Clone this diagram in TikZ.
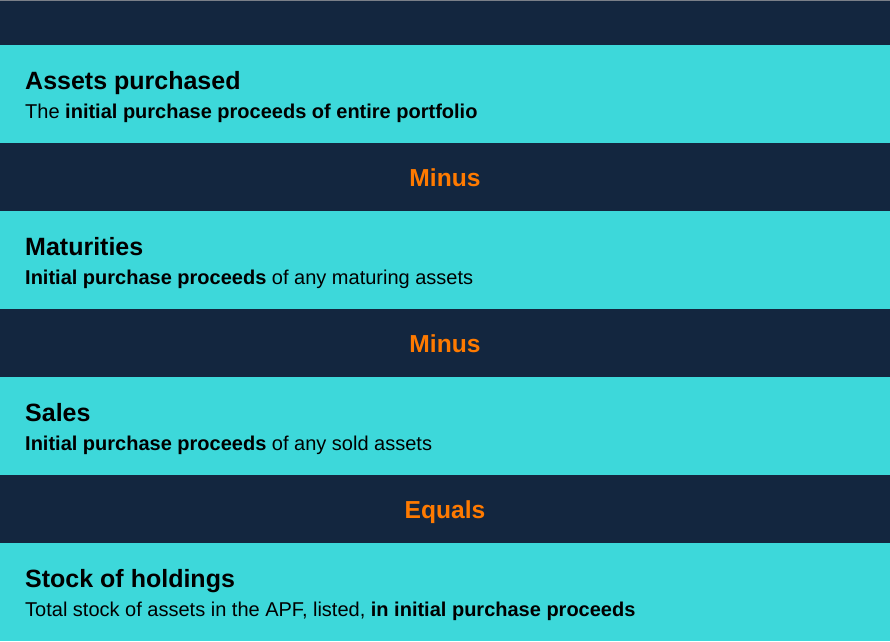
\documentclass[tikz,border=0pt]{standalone}
\usepackage{fontspec}
\setmainfont{Liberation Sans}
\definecolor{navy}{HTML}{13263F}
\definecolor{cyanband}{HTML}{3DD8DA}
\definecolor{orangetxt}{HTML}{FF7A00}
\definecolor{topline}{HTML}{7A7F88}
\begin{document}
\begin{tikzpicture}[x=1pt,y=-1pt,
  navyband/.style={fill=navy},
  cyanbandst/.style={fill=cyanband},
  ttl/.style={anchor=base west,inner sep=0pt,font=\fontsize{25}{30}\selectfont\bfseries,text=black},
  sub/.style={anchor=base west,inner sep=0pt,font=\fontsize{20}{24}\selectfont,text=black},
  op/.style={anchor=base,inner sep=0pt,font=\fontsize{24.6}{28}\selectfont\bfseries,text=orangetxt}]
\useasboundingbox (0,0) rectangle (890,641);
\fill[navyband] (0,0) rectangle (890,45);
\fill[topline] (0,0) rectangle (890,1.3);
\fill[cyanbandst] (0,45) rectangle (890,143);
\fill[navyband] (0,143) rectangle (890,211);
\fill[cyanbandst] (0,211) rectangle (890,309);
\fill[navyband] (0,309) rectangle (890,377);
\fill[cyanbandst] (0,377) rectangle (890,475);
\fill[navyband] (0,475) rectangle (890,543);
\fill[cyanbandst] (0,543) rectangle (890,641);
\node[ttl] (t1) at (25,89) {Assets purchased};
\node[sub] (s1) at (25,118) {The \textbf{initial purchase proceeds of entire portfolio}};
\node[op] (o1) at (445,186) {Minus};
\node[ttl] (t2) at (25,255) {Maturities};
\node[sub] (s2) at (25,284) {\textbf{Initial purchase proceeds} of any maturing assets};
\node[op] (o2) at (445,352) {Minus};
\node[ttl] (t3) at (25,421) {Sales};
\node[sub] (s3) at (25,450) {\textbf{Initial purchase proceeds} of any sold assets};
\node[op] (o3) at (445,518) {Equals};
\node[ttl] (t4) at (25,587) {Stock of holdings};
\node[sub] (s4) at (25,616) {Total stock of assets in the APF, listed, \textbf{in initial purchase proceeds}};
\end{tikzpicture}
\end{document}
